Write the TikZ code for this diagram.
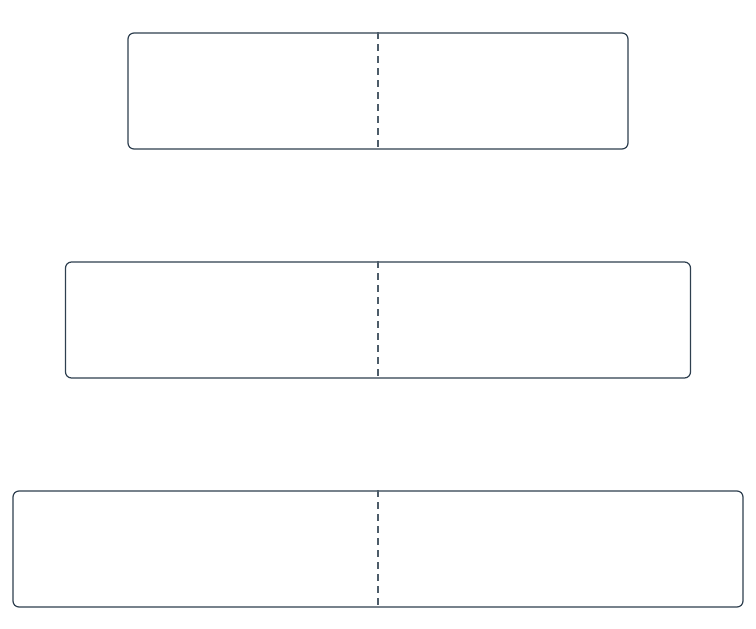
\documentclass[tikz,border=0pt]{standalone}
\usepackage{tikz}
\usetikzlibrary{calc}
\definecolor{slate}{HTML}{2E3F4F}
\tikzset{
    band/.style={draw=slate,line width=1.2pt,rounded corners=6pt,minimum height=116pt,inner sep=0pt},
    split/.style={draw=slate!85,line width=1.2pt,dash pattern=on 7pt off 5pt}
}
\begin{document}
\begin{tikzpicture}[x=1pt,y=-1pt]
                \useasboundingbox (0,0) rectangle (756,629);
                \node[band,minimum width=500pt] (top) at (378,91) {};
                \node[band,minimum width=625pt] (mid) at (378,320) {};
                \node[band,minimum width=730pt] (bot) at (378,549) {};
                \foreach \b in {top,mid,bot}
                    \draw[split] (\b.north) -- (\b.south);
            \end{tikzpicture}
\end{document}
